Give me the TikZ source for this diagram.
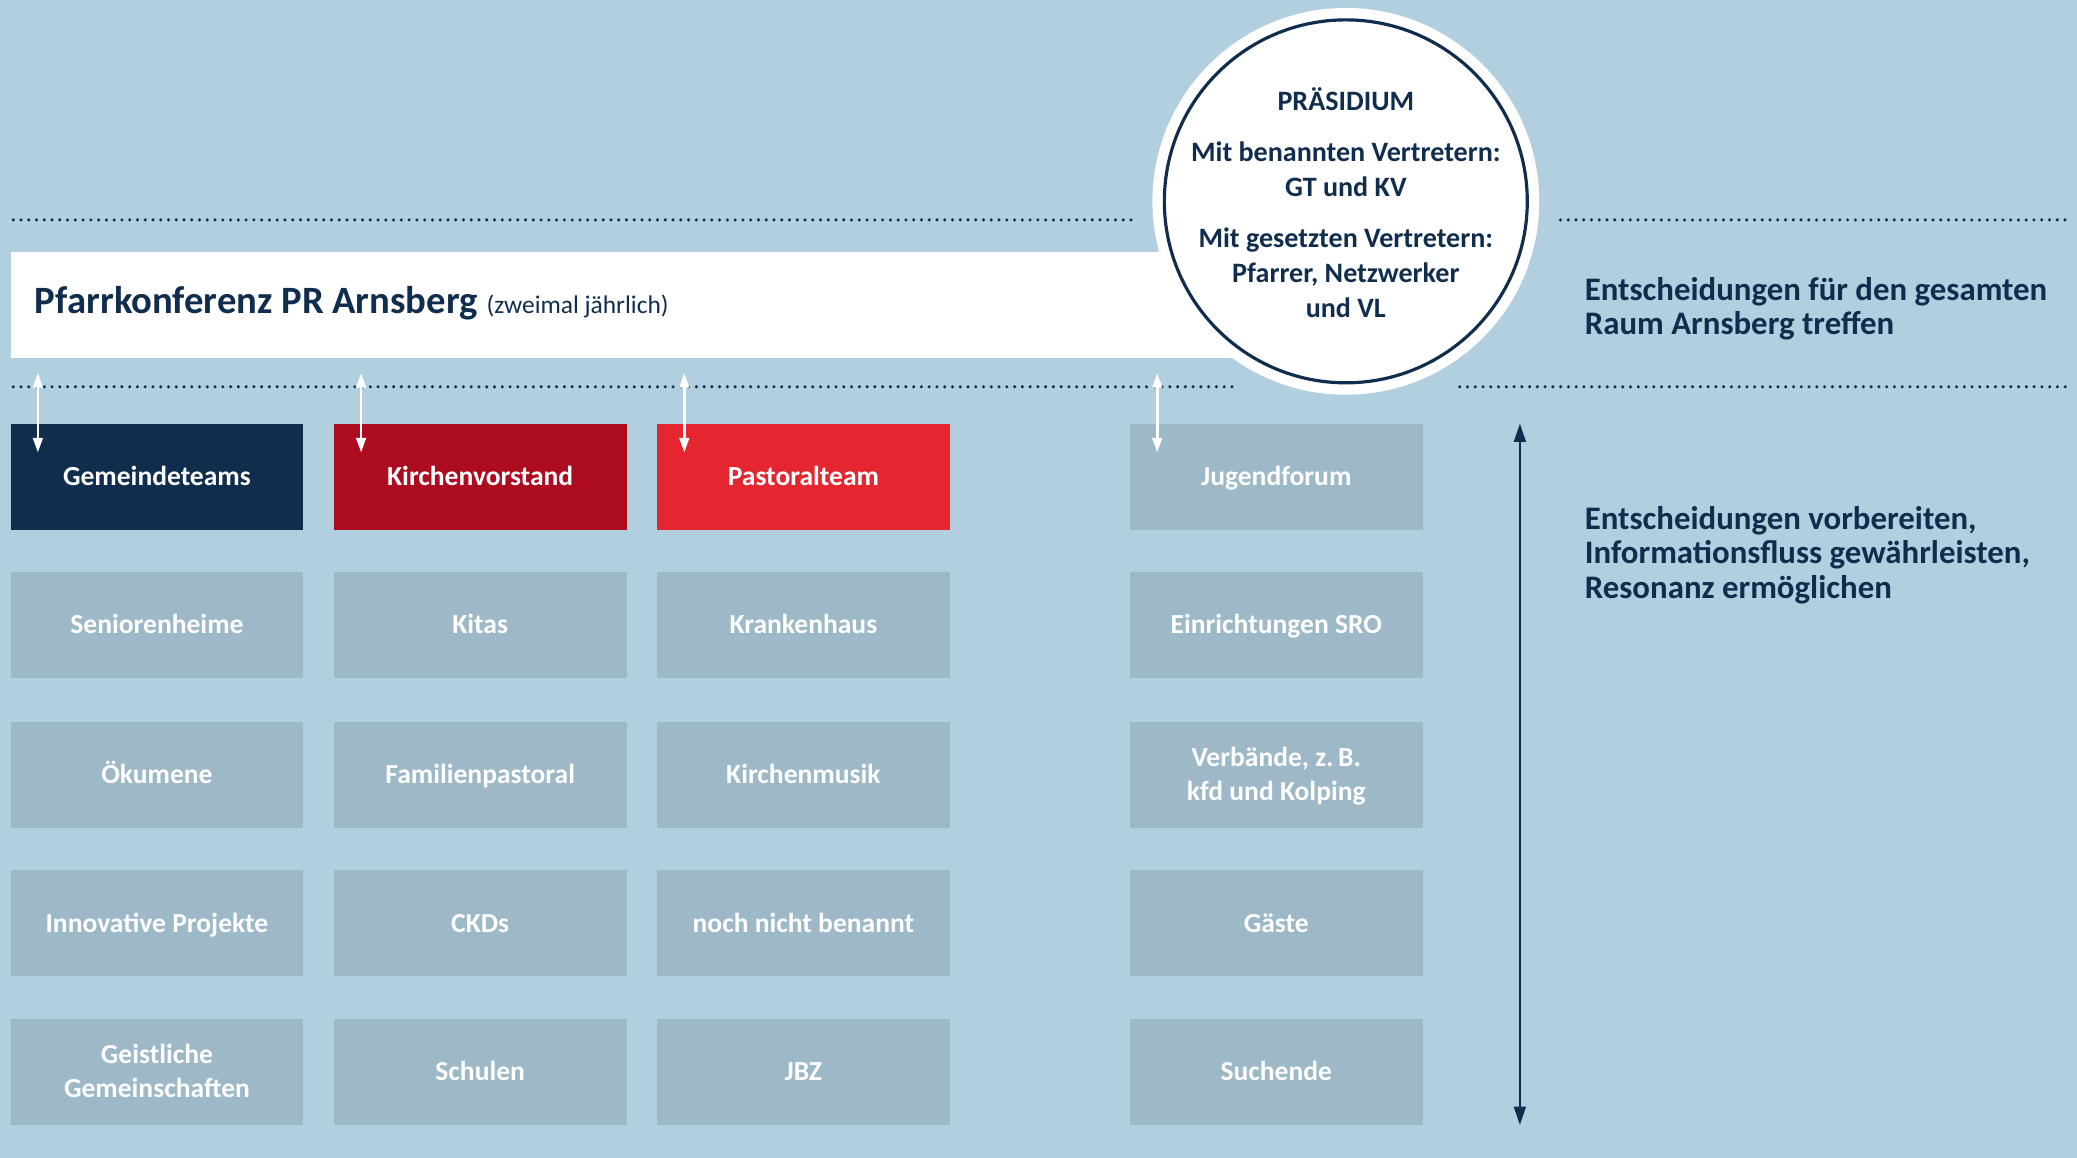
\documentclass[tikz,border=0pt]{standalone}
\usepackage{fontspec}
\setmainfont{Carlito}
\usetikzlibrary{arrows.meta}
\definecolor{hell}{RGB}{178,207,224}
\definecolor{grau}{RGB}{157,184,199}
\definecolor{navy}{RGB}{17,45,78}
\definecolor{dunkelrot}{RGB}{173,12,32}
\definecolor{rot}{RGB}{229,38,48}
\newcommand{\fs}[2]{\fontsize{#1}{#2}\selectfont}

\begin{document}
\begin{tikzpicture}
                \tikzset{x=0.5pt, y=-0.5pt}
                \tikzstyle{box}=[rectangle, fill=grau, text=white, minimum width=110.5pt, minimum height=40pt, inner sep=0pt, align=center, text height=8pt, text depth=1.4pt, font=\fs{10.4}{13}\bfseries]
                \tikzstyle{twolines}=[text height=21pt, text depth=1.4pt]
                \tikzstyle{banner}=[rectangle, fill=white, anchor=west, minimum width=504pt, minimum height=40pt]
                \tikzstyle{dots}=[navy, line width=1.3pt, line cap=round, dash pattern=on 0pt off 2.93pt]
                \tikzstyle{updown}=[white, line width=1pt, {Triangle[length=5.5pt,width=3.6pt]}-{Triangle[length=5.5pt,width=3.6pt]}]
                \tikzstyle{spanarrow}=[navy, line width=1pt, {Triangle[length=7pt,width=4.4pt]}-{Triangle[length=7pt,width=4.4pt]}]
                \tikzstyle{info}=[text=navy, anchor=west, align=left, inner sep=0pt, font=\fs{12.4}{13}\bfseries]

                \fill[hell] (0,0) rectangle (1568,874);

                % Trennlinien
                \draw[dots] (10,166)   -- (855,166);
                \draw[dots] (1178,166) -- (1562,166);
                \draw[dots] (10,292)   -- (935,292);
                \draw[dots] (1102,292) -- (1562,292);

                % Pfarrkonferenz und Praesidium
                \draw (8,230)       node[banner]    (pk)    {};
                \draw (26,237)      node[anchor=base west, inner sep=0pt, text=navy, font=\fs{14.6}{17}\bfseries] (pktxt)
                        {Pfarrkonferenz PR Arnsberg {\fs{9.6}{12}\mdseries (zweimal jährlich)}};
                \draw (1016,152)    node[circle, fill=white, minimum size=146pt, inner sep=0pt] (ring)  {};
                \draw (1016,152)    node[circle, draw=navy, line width=1.2pt, minimum size=137pt, inner sep=0pt] (prs) {};
                \draw (1016,153)    node[align=center, text=navy, font=\fs{10.6}{13.3}\bfseries] (prstxt)
                        {PRÄSIDIUM\\[6pt]Mit benannten Vertretern:\\GT und KV\\[6pt]Mit gesetzten Vertretern:\\Pfarrer, Netzwerker\\und VL};

                % Gremien
                \draw (118.5,360)   node[box, fill=navy]      (gt)  {Gemeindeteams};
                \draw (362.5,360)   node[box, fill=dunkelrot] (kv)  {Kirchenvorstand};
                \draw (606.5,360)   node[box, fill=rot]       (pt)  {Pastoralteam};
                \draw (963.5,360)   node[box]                 (jf)  {Jugendforum};

                \draw (118.5,472)   node[box]   (sh)    {Seniorenheime};
                \draw (362.5,472)   node[box]   (ki)    {Kitas};
                \draw (606.5,472)   node[box]   (kh)    {Krankenhaus};
                \draw (963.5,472)   node[box]   (er)    {Einrichtungen SRO};

                \draw (118.5,585)   node[box]   (oe)    {Ökumene};
                \draw (362.5,585)   node[box]   (fp)    {Familienpastoral};
                \draw (606.5,585)   node[box]   (km)    {Kirchenmusik};
                \draw (963.5,585)   node[box, twolines] (vb) {Verbände, z.\,B.\\kfd und Kolping};

                \draw (118.5,697)   node[box]   (ip)    {Innovative Projekte};
                \draw (362.5,697)   node[box]   (ck)    {CKDs};
                \draw (606.5,697)   node[box]   (nb)    {noch nicht benannt};
                \draw (963.5,697)   node[box]   (ga)    {Gäste};

                \draw (118.5,809)   node[box, twolines] (gg) {Geistliche\\Gemeinschaften};
                \draw (362.5,809)   node[box]   (sc)    {Schulen};
                \draw (606.5,809)   node[box]   (jb)    {JBZ};
                \draw (963.5,809)   node[box]   (su)    {Suchende};

                % Verbindungen
                \foreach \b in {gt, kv, pt, jf}
                    \draw[updown] ([shift={(10.5pt,19pt)}]\b.north west) -- ([shift={(10.5pt,-11pt)}]\b.north west);
                \draw[spanarrow] ([xshift=36.5pt]jf.north east) -- ([xshift=36.5pt]su.south east);

                % Aufgaben
                \draw (1196,233)    node[info]  (ziel1) {Entscheidungen für den gesamten\\Raum Arnsberg treffen};
                \draw (1196,419)    node[info]  (ziel2) {Entscheidungen vorbereiten,\\Informationsfluss gewährleisten,\\Resonanz ermöglichen};
\end{tikzpicture}
\end{document}
